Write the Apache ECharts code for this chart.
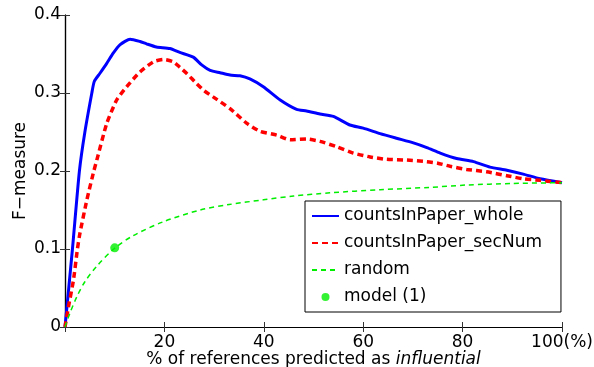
<!DOCTYPE html>
<html>
<head>
<meta charset="utf-8">
<script src="https://cdn.jsdelivr.net/npm/echarts@6/dist/echarts.min.js"></script>
<style>
  html, body { margin: 0; padding: 0; background: #fff; }
  #chart { width: 594px; height: 367px; }
</style>
</head>
<body>
<div id="chart"></div>
<script>
// values
const wholeX = [0, 1.5, 2.9, 4.0, 5.4, 5.9, 7.0, 8.4, 9.7, 11.1, 13.1, 15.1, 16.4, 18.4, 21.1, 23.1, 25.8, 27.5, 29.2, 31.2, 33.2, 35.2, 37.2, 39.9, 43.3, 46.6, 48.6, 51.3, 54.0, 57.3, 60.0, 63.4, 66.7, 70.1, 72.8, 75.5, 78.8, 82.2, 85.5, 88.9, 92.2, 95.6, 100]
const wholeY = [0, 0.1, 0.2, 0.25, 0.3, 0.315, 0.325, 0.338, 0.351, 0.362, 0.369, 0.366, 0.363, 0.359, 0.357, 0.352, 0.346, 0.336, 0.329, 0.326, 0.323, 0.322, 0.318, 0.308, 0.291, 0.279, 0.277, 0.273, 0.270, 0.259, 0.255, 0.248, 0.242, 0.236, 0.230, 0.223, 0.216, 0.212, 0.205, 0.201, 0.196, 0.190, 0.185]

const secNumX = [0, 0.7, 1.7, 2.5, 3.0, 4.4, 5.8, 6.4, 8.4, 10.4, 12.4, 15.1, 17.8, 19.8, 21.8, 23.1, 24.5, 26.5, 28.0, 29.8, 33.2, 36.6, 39.2, 42.6, 45.3, 48.6, 51.3, 54.7, 58.0, 61.4, 64.7, 68.8, 72.8, 75.0, 77.5, 80.8, 84.8, 88.9, 92.2, 95.6, 100]
const secNumY = [0, 0.026, 0.060, 0.1, 0.120, 0.163, 0.2, 0.214, 0.261, 0.291, 0.308, 0.327, 0.340, 0.343, 0.340, 0.333, 0.325, 0.312, 0.303, 0.295, 0.280, 0.261, 0.251, 0.246, 0.240, 0.241, 0.238, 0.231, 0.223, 0.218, 0.215, 0.214, 0.212, 0.210, 0.206, 0.202, 0.199, 0.194, 0.190, 0.188, 0.185]

const randomX = [0, 1, 2.4, 4, 6.4, 10, 13.7, 19.8, 27.2, 33, 39.9, 46, 53.3, 63.4, 73.4, 80.8, 90, 100]
const randomY = [0, 0.018, 0.039, 0.058, 0.078, 0.101, 0.117, 0.135, 0.150, 0.157, 0.163, 0.168, 0.172, 0.176, 0.179, 0.182, 0.184, 0.185]

const modelPoint = [10, 0.1015]

const font = 'DejaVu Sans, Verdana, sans-serif'
const fs = 17

const zip = (xs, ys) => xs.map((x, i) => [x, ys[i]])

const chart = echarts.init(document.getElementById('chart'))

const axisCommon = {
  type: 'value',
  axisLine: { show: true, lineStyle: { color: '#000', width: 1.2 } },
  axisTick: { show: true, inside: true, length: 5, lineStyle: { color: '#333' } },
  splitLine: { show: false }
}

// hide the marker that echarts puts in the middle of a line legend icon
const noMarker = { opacity: 0 }

chart.setOption({
  animation: false,
  backgroundColor: '#fff',
  grid: { left: 65, top: 15, right: 32, bottom: 40, outerBoundsMode: 'none' },
  xAxis: [{
    ...axisCommon,
    min: 0, max: 100, interval: 20,
    axisLabel: {
      color: '#000', fontFamily: font, fontSize: fs, margin: 7,
      formatter: v => v === 0 ? '' : (v === 100 ? '100(%)' : String(v))
    },
    name: '{n|% of references predicted as }{i|influential}',
    nameLocation: 'middle',
    nameGap: 24,
    nameMoveOverlap: false,
    nameTextStyle: {
      rich: {
        n: { fontFamily: font, fontSize: fs, color: '#000' },
        i: { fontFamily: font, fontSize: fs, color: '#000', fontStyle: 'italic' }
      }
    }
  }, {
    ...axisCommon,
    position: 'top',
    min: 0, max: 100, interval: 20,
    axisLabel: { show: false }
  }],
  yAxis: [{
    ...axisCommon,
    min: 0, max: 0.4, interval: 0.1,
    axisLabel: { color: '#000', fontFamily: font, fontSize: fs, margin: 4 },
    name: 'F\u2212measure',
    nameLocation: 'middle',
    nameGap: 36,
    nameMoveOverlap: false,
    nameTextStyle: { fontFamily: font, fontSize: fs, color: '#000' }
  }, {
    ...axisCommon,
    position: 'right',
    min: 0, max: 0.4, interval: 0.1,
    axisLabel: { show: false }
  }],
  legend: {
    orient: 'vertical',
    left: 305, top: 201,
    padding: [5, 19, 5, 6],
    itemGap: 7,
    itemWidth: 27,
    itemHeight: 8,
    backgroundColor: '#fff',
    borderColor: '#000',
    borderWidth: 1,
    borderRadius: 0,
    textStyle: { fontFamily: font, fontSize: fs, color: '#000', lineHeight: 20 },
    data: [
      { name: 'countsInPaper_whole', itemStyle: noMarker },
      { name: 'countsInPaper_secNum', itemStyle: noMarker },
      { name: 'random', itemStyle: noMarker },
      { name: 'model (1)', icon: 'circle' }
    ]
  },
  series: [{
    name: 'countsInPaper_whole',
    type: 'line',
    data: zip(wholeX, wholeY),
    showSymbol: false,
    symbol: 'none',
    smooth: 0.2,
    color: '#0000ff',
    lineStyle: { color: '#0000ff', width: 3 }
  }, {
    name: 'countsInPaper_secNum',
    type: 'line',
    data: zip(secNumX, secNumY),
    showSymbol: false,
    symbol: 'none',
    smooth: 0.2,
    color: '#ff0000',
    lineStyle: { color: '#ff0000', width: 3.5, type: [6, 4] }
  }, {
    name: 'random',
    type: 'line',
    data: zip(randomX, randomY),
    showSymbol: false,
    symbol: 'none',
    smooth: 0.3,
    color: '#00ee00',
    lineStyle: { color: '#00ee00', width: 1.5, type: [5, 4] }
  }, {
    name: 'model (1)',
    type: 'scatter',
    data: [modelPoint],
    symbol: 'circle',
    symbolSize: 9,
    color: '#00ee00',
    itemStyle: { color: '#00ee00' }
  }]
})
</script>
</body>
</html>
